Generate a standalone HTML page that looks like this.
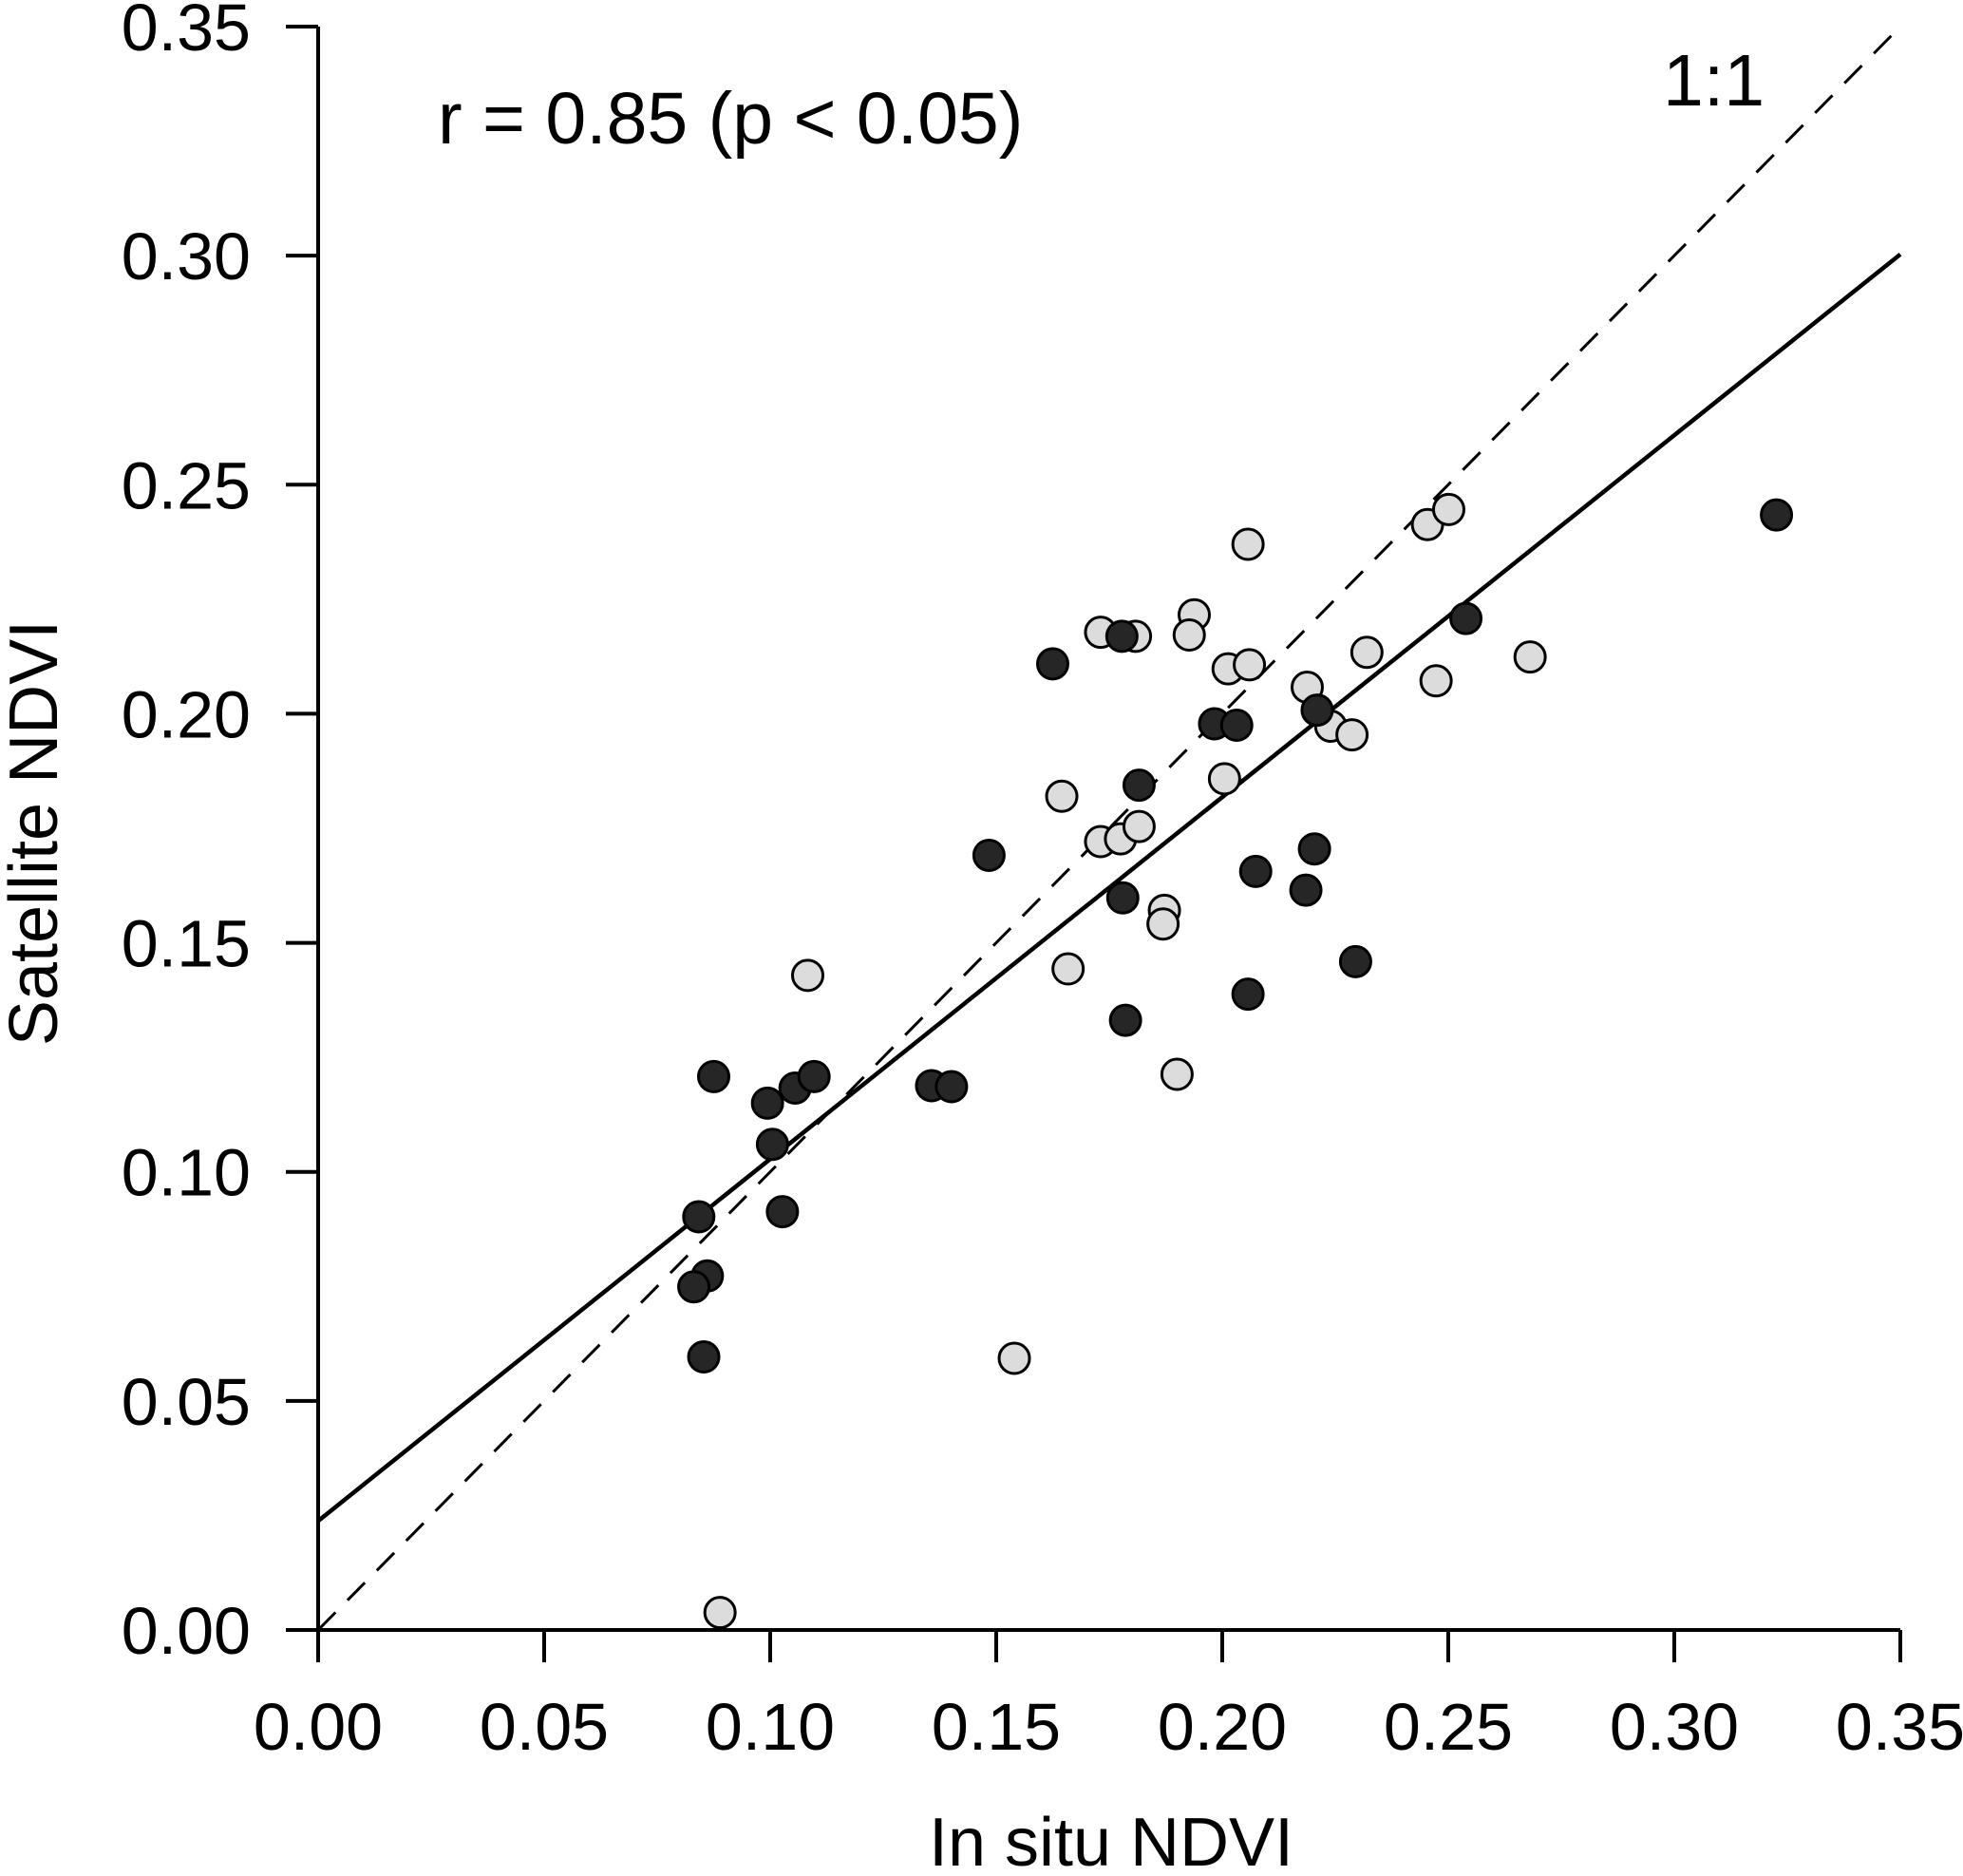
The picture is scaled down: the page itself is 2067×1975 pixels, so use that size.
<!DOCTYPE html>
<html><head><meta charset="utf-8"><style>
html,body{margin:0;padding:0;background:#fff;}
svg{display:block;font-family:"Liberation Sans",sans-serif;}
</style></head><body>
<svg id="chart" width="2067" height="1975" viewBox="0 0 2067 1975" xmlns="http://www.w3.org/2000/svg">
<text x="461" y="151" font-size="77">r = 0.85 (p &lt; 0.05)</text>
<text x="1751" y="111" font-size="77">1:1</text>
<text x="1170" y="1964" font-size="72" text-anchor="middle">In situ NDVI</text>
<text transform="translate(60,877) rotate(-90)" font-size="72" text-anchor="middle">Satellite NDVI</text>
<g id="axes"></g>
<g id="lines"></g>
<g id="points"></g>
</svg>
<script>
const xTicks = [0.00,0.05,0.10,0.15,0.20,0.25,0.30,0.35];
const yTicks = [0.00,0.05,0.10,0.15,0.20,0.25,0.30,0.35];
const darkX = [0.0875,0.0994,0.1055,0.1097,0.1005,0.1027,0.0842,0.0861,0.0831,0.0853,0.1357,0.1401,0.1484,0.1625,0.1778,0.1816,0.1780,0.1786,0.1983,0.2032,0.2210,0.2204,0.2074,0.2185,0.2057,0.2295,0.2539,0.3226];
const darkY = [0.1208,0.1150,0.1183,0.1208,0.1060,0.0913,0.0902,0.0773,0.0749,0.0596,0.1188,0.1186,0.1691,0.2109,0.2169,0.1844,0.1598,0.1331,0.1978,0.1975,0.2008,0.1705,0.1656,0.1615,0.1388,0.1459,0.2208,0.2434];
const lightX = [0.0889,0.1083,0.1540,0.1645,0.1659,0.1731,0.1808,0.1731,0.1775,0.1816,0.1872,0.1869,0.1900,0.1938,0.1927,0.2057,0.2013,0.2060,0.2005,0.2188,0.2240,0.2287,0.2320,0.2454,0.2501,0.2473,0.2681];
const lightY = [0.0038,0.1429,0.0593,0.1820,0.1443,0.2178,0.2169,0.1721,0.1727,0.1754,0.1571,0.1541,0.1213,0.2216,0.2172,0.2370,0.2098,0.2107,0.1858,0.2058,0.1973,0.1954,0.2134,0.2413,0.2446,0.2072,0.2124];
const regIntercept = 0.0238;
const regSlope = 0.79;

const NS = "http://www.w3.org/2000/svg";
const X0 = 335, X1 = 2001, Y0 = 1716, Y1 = 28;
const sx = v => X0 + (v - 0) / 0.35 * (X1 - X0);
const sy = v => Y0 - (v - 0) / 0.35 * (Y0 - Y1);
function mk(tag, attrs, parent) {
  const e = document.createElementNS(NS, tag);
  for (const k in attrs) e.setAttribute(k, attrs[k]);
  parent.appendChild(e);
  return e;
}
const axes = document.getElementById('axes');
const lines = document.getElementById('lines');
const pts = document.getElementById('points');

let a = mk('line', {x1: sx(0), y1: sy(0), x2: sx(0.35), y2: sy(0), stroke: '#000', 'stroke-width': 4}, axes);


a = mk('line', {x1: sx(0), y1: sy(0), x2: sx(0), y2: sy(0.35), stroke: '#000', 'stroke-width': 4}, axes);



xTicks.forEach(t => {
  const l = mk('line', {x1: sx(t), y1: Y0, x2: sx(t), y2: Y0 + 34, stroke: '#000', 'stroke-width': 4}, axes);
  
  
  const tx = mk('text', {x: sx(t), y: 1842, 'font-size': 70, 'text-anchor': 'middle'}, axes);
  tx.textContent = t.toFixed(2);
  
  
});
yTicks.forEach(t => {
  const l = mk('line', {x1: X0 - 34, y1: sy(t), x2: X0, y2: sy(t), stroke: '#000', 'stroke-width': 4}, axes);
  
  
  const tx = mk('text', {x: 264, y: sy(t) + 25, 'font-size': 70, 'text-anchor': 'end'}, axes);
  tx.textContent = t.toFixed(2);
  
  
});

let ln = mk('line', {x1: sx(0), y1: sy(0), x2: sx(0.349), y2: sy(0.349), stroke: '#000', 'stroke-width': 3, 'stroke-dasharray': '26 18'}, lines);


ln = mk('line', {x1: sx(0), y1: sy(regIntercept), x2: sx(0.35), y2: sy(regIntercept + regSlope * 0.35), stroke: '#000', 'stroke-width': 4.5}, lines);



lightX.forEach((v, i) => {
  const c = mk('circle', {cx: sx(v), cy: sy(lightY[i]), r: 16, fill: '#dcdcdc', stroke: '#000', 'stroke-width': 3}, pts);
  
  
});
darkX.forEach((v, i) => {
  const c = mk('circle', {cx: sx(v), cy: sy(darkY[i]), r: 16, fill: '#262626', stroke: '#000', 'stroke-width': 3}, pts);
  
  
});
</script>
</body></html>
